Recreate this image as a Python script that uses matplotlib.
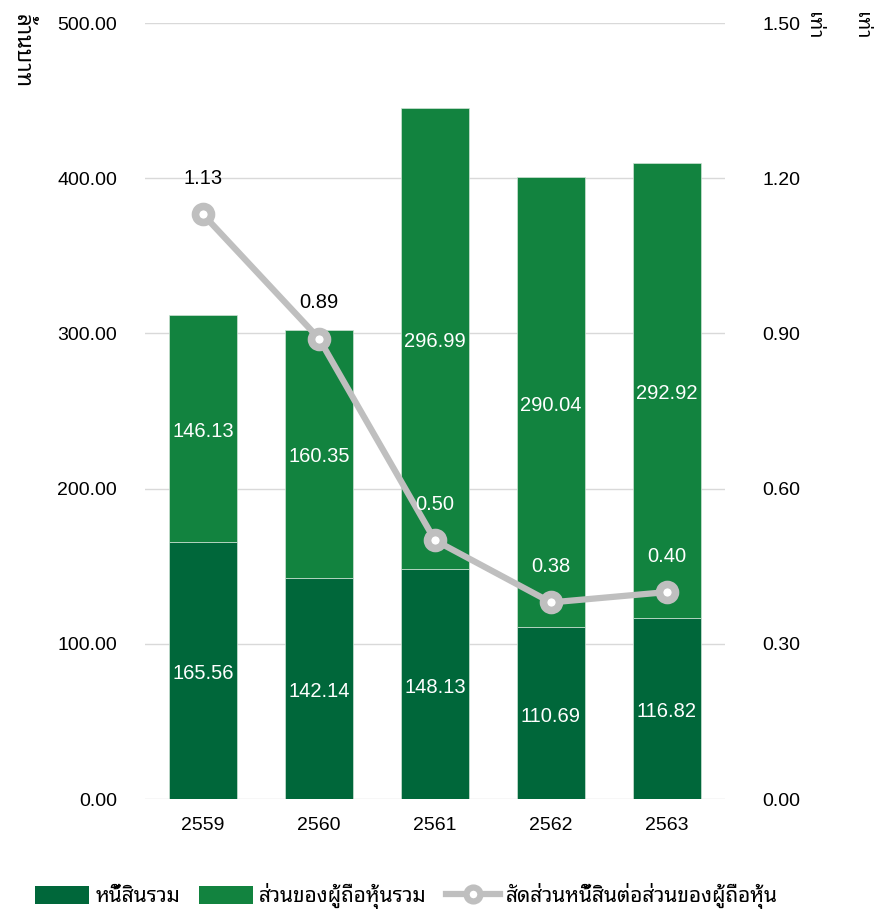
import matplotlib
matplotlib.use("Agg")
import matplotlib.pyplot as plt
from matplotlib.lines import Line2D
from matplotlib.patches import Patch

plt.rcParams['font.family'] = ['Liberation Sans', 'Noto Sans Thai Looped', 'DejaVu Sans']

years = ["2559", "2560", "2561", "2562", "2563"]
liabilities = [165.56, 142.14, 148.13, 110.69, 116.82]
equity = [146.13, 160.35, 296.99, 290.04, 292.92]
ratio = [1.13, 0.89, 0.50, 0.38, 0.40]
left_ticks = [0, 100, 200, 300, 400, 500]
right_ticks = [0, 0.3, 0.6, 0.9, 1.2, 1.5]

legend_labels = ["หนี้สินรวม", "ส่วนของผู้ถือหุ้นรวม", "สัดส่วนหนี้สินต่อส่วนของผู้ถือหุ้น"]
left_title = "ล้านบาท"
right_title = "เท่า"

c_dark = "#00673A"
c_light = "#12833F"
c_line = "#BFBFBF"

fig = plt.figure(figsize=(8.74, 9.10), dpi=100)
ax = fig.add_axes([145/874, 1-799/910, 580/874, 776/910])
x = list(range(len(years)))
w = 0.58
ax.bar(x, liabilities, width=w, color=c_dark, edgecolor='#CFE3D6', linewidth=0.5, zorder=2)
ax.bar(x, equity, width=w, bottom=liabilities, color=c_light, edgecolor='#CFE3D6', linewidth=0.5, zorder=2)
ax.set_xlim(-0.5, 4.5)
ax.set_ylim(0, 500)
ax.set_yticks(left_ticks)
ax.set_yticklabels([f"{v:.2f}" for v in left_ticks], fontsize=14)
ax.set_xticks(x)
ax.set_xticklabels(years, fontsize=14)
ax.grid(axis='y', color='#D9D9D9', linewidth=1, zorder=0)
for s in ax.spines.values():
    s.set_visible(False)
ax.tick_params(length=0)
ax.tick_params(axis='y', pad=20)
ax.tick_params(axis='x', pad=13)

for i in x:
    ax.annotate(f"{liabilities[i]:.2f}", (i, liabilities[i]/2), xytext=(0, -3), textcoords='offset pixels',
                color='white', ha='center', va='center', fontsize=14.5, zorder=3)
    ax.annotate(f"{equity[i]:.2f}", (i, liabilities[i] + equity[i]/2), xytext=(0, -3), textcoords='offset pixels',
                color='white', ha='center', va='center', fontsize=14.5, zorder=3)

ax2 = ax.twinx()
ax2.set_ylim(0, 1.5)
ax2.set_yticks(right_ticks)
ax2.set_yticklabels([f"{v:.2f}" for v in right_ticks], fontsize=14)
for s in ax2.spines.values():
    s.set_visible(False)
ax2.tick_params(length=0, pad=27)
ax2.plot(x, ratio, color=c_line, linewidth=4.5, marker='o', markersize=11.5,
         markerfacecolor='white', markeredgecolor=c_line, markeredgewidth=5.5, zorder=4,
         solid_capstyle='round')
label_colors = ['black', 'black', 'white', 'white', 'white']
for i in x:
    ax2.annotate(f"{ratio[i]:.2f}", (i, ratio[i]), xytext=(0, 36), textcoords='offset pixels',
                 ha='center', va='center', fontsize=14.5, color=label_colors[i], zorder=5)

fig.text(21/874, 1-14/910, left_title, rotation=-90, ha='center', va='top', fontsize=16)
fig.text(812/874, 1-12/910, right_title, rotation=-90, ha='center', va='top', fontsize=14)
fig.text(861/874, 1-12/910, right_title, rotation=-90, ha='center', va='top', fontsize=14)

handles = [Patch(facecolor=c_dark), Patch(facecolor=c_light),
           Line2D([0], [0], color=c_line, linewidth=4.5, marker='o', markersize=10,
                  markerfacecolor='white', markeredgecolor=c_line, markeredgewidth=4.5)]
fig.legend(handles, legend_labels, loc='center', bbox_to_anchor=(0.465, 1-896/910), ncol=3,
           frameon=False, fontsize=15, handlelength=2.6, handleheight=1.0, columnspacing=0.9,
           handletextpad=0.3)
fig.savefig("out.png")
